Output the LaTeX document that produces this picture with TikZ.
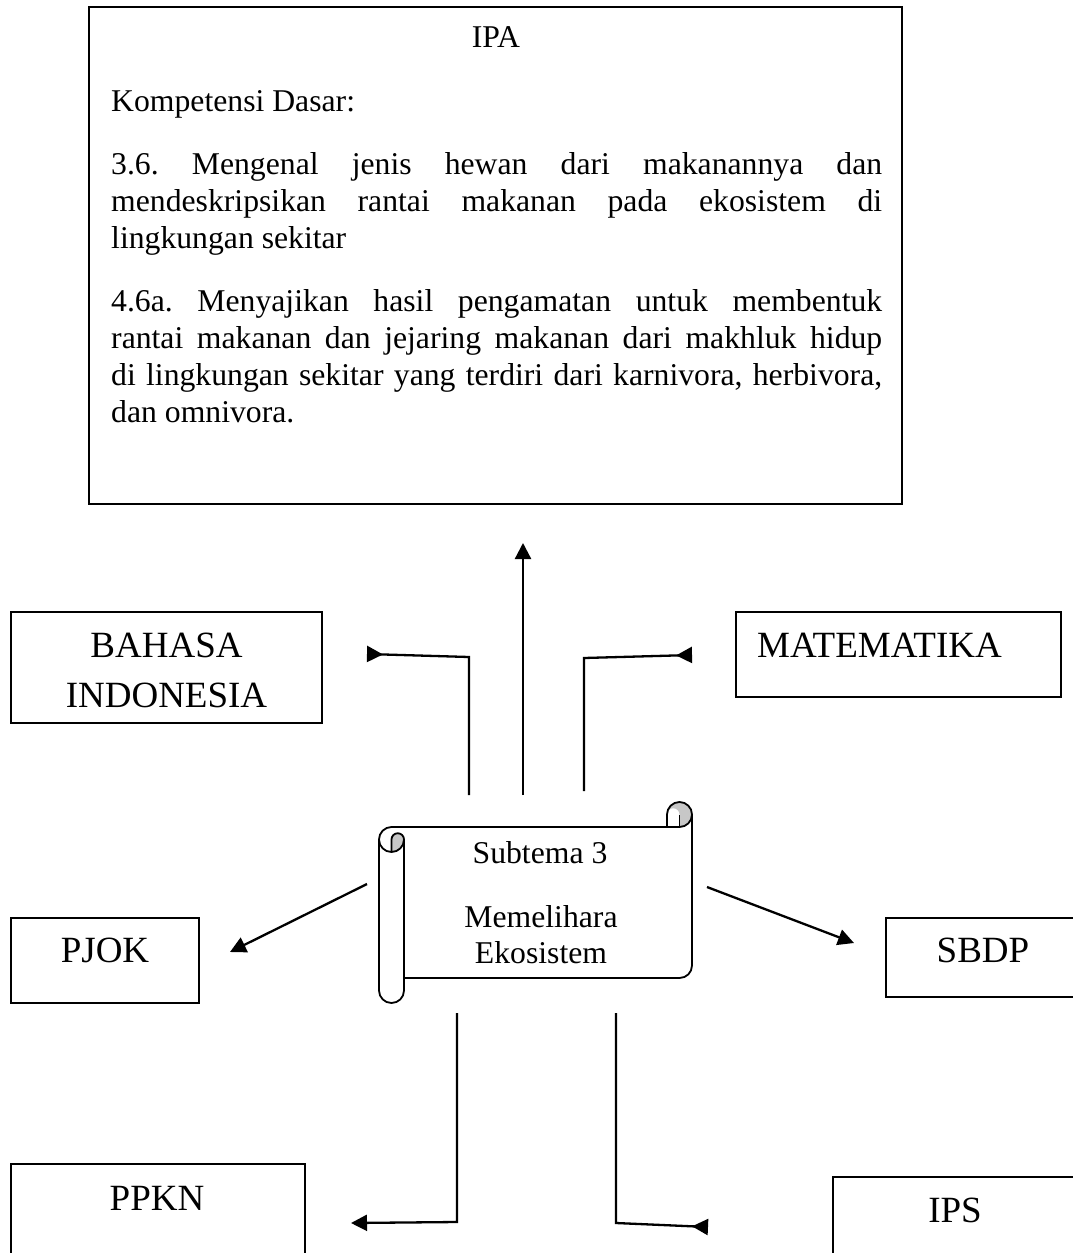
\documentclass[tikz,border=0pt]{standalone}
\usepackage{fontspec}
\setmainfont{Liberation Serif}
\usetikzlibrary{arrows.meta}
\frenchspacing
\tikzset{
  box/.style={draw, line width=1.6pt, inner sep=0pt},
  conn/.style={line width=2.3pt, line join=miter, -{Triangle[length=16pt,width=16pt]}},
  connrev/.style={line width=2.3pt, line join=miter, -{Triangle[length=16pt,width=16pt,reversed]}},
  bodytxt/.style={inner sep=0pt, font=\fontsize{31.7}{36.6}\selectfont},
  labtxt/.style={inner sep=0pt, font=\fontsize{37}{50}\selectfont},
  scrollline/.style={line width=1.8pt, line join=round},
}
\begin{document}
\begin{tikzpicture}[x=1pt,y=-1pt]
\useasboundingbox (0,0) rectangle (1073,1253);
\clip (0,0) rectangle (1073,1253);

% ---------- IPA box ----------
\node[box, minimum width=813pt, minimum height=497pt] (ipa) at (495.5,255.5) {};
\node[bodytxt, anchor=base] (ipat) at (496,47) {IPA};
\node[bodytxt, anchor=base west] (kd) at (111,111) {Kompetensi Dasar:};
\node[bodytxt, anchor=base west] (l1) at (111,174) {\makebox[771pt][s]{3.6. Mengenal jenis hewan dari makanannya dan}};
\node[bodytxt, anchor=base west] (l2) at (111,211) {\makebox[771pt][s]{mendeskripsikan rantai makanan pada ekosistem di}};
\node[bodytxt, anchor=base west] (l3) at (111,248) {lingkungan sekitar};
\node[bodytxt, anchor=base west] (l4) at (111,311) {\makebox[771pt][s]{4.6a. Menyajikan hasil pengamatan untuk membentuk}};
\node[bodytxt, anchor=base west] (l5) at (111,348) {\makebox[771pt][s]{rantai makanan dan jejaring makanan dari makhluk hidup}};
\node[bodytxt, anchor=base west] (l6) at (111,385) {\makebox[771pt][s]{di lingkungan sekitar yang terdiri dari karnivora, herbivora,}};
\node[bodytxt, anchor=base west] (l7) at (111,422) {dan omnivora.};

% ---------- subject boxes ----------
\node[box, minimum width=311pt, minimum height=111pt] (bi) at (166.5,667.5) {};
\node[labtxt, anchor=base] (bit1) at (166.5,657) {BAHASA};
\node[labtxt, anchor=base] (bit2) at (166.5,707) {INDONESIA};

\node[box, minimum width=325pt, minimum height=85pt] (mat) at (898.5,654.5) {};
\node[labtxt, anchor=base west] (matt) at (757,657) {MATEMATIKA};

\node[box, minimum width=188pt, minimum height=85pt] (pjok) at (105,960.5) {};
\node[labtxt, anchor=base] (pjokt) at (105,962) {PJOK};

\node[box, minimum width=224pt, minimum height=79pt] (sbdp) at (998,957.5) {};
\node[labtxt, anchor=base] (sbdpt) at (983,962) {SBDP};

\node[box, minimum width=294pt, minimum height=140pt] (ppkn) at (158,1234) {};
\node[labtxt, anchor=base] (ppknt) at (157,1210) {PPKN};

\node[box, minimum width=267pt, minimum height=130pt] (ips) at (966.5,1242) {};
\node[labtxt, anchor=base] (ipst) at (955,1222) {IPS};

% ---------- scroll (Subtema) ----------
\coordinate (scroll) at (535.5,902.5);
\fill[white] (379,839.5) arc[start angle=180, delta angle=90, radius=12.5]
  -- (667,827) -- (667,814.5) arc[start angle=180, delta angle=180, radius=12.5]
  -- (692,965.5) arc[start angle=0, delta angle=90, radius=12.5]
  -- (404,978) -- (404,990.5) arc[start angle=0, delta angle=180, radius=12.5] -- cycle;
% darker curls
\fill[black!22] (679.5,827) arc[start angle=90, delta angle=-270, radius=12.5]
  arc[start angle=180, delta angle=180, radius=6.25] -- cycle;
\fill[black!22] (391.5,852) arc[start angle=90, delta angle=-90, radius=12.5]
  arc[start angle=0, delta angle=-180, radius=6.25] -- cycle;
% outline
\draw[scrollline] (379,839.5) arc[start angle=180, delta angle=90, radius=12.5]
  -- (667,827) -- (667,814.5) arc[start angle=180, delta angle=180, radius=12.5]
  -- (692,965.5) arc[start angle=0, delta angle=90, radius=12.5]
  -- (404,978) -- (404,990.5) arc[start angle=0, delta angle=180, radius=12.5] -- cycle;
\draw[scrollline] (667,827) -- (679.5,827) arc[start angle=90, delta angle=-90, radius=12.5];
\draw[scrollline] (679.5,827) -- (679.5,814.5);
\draw[scrollline] (391.5,852) -- (391.5,839.5) arc[start angle=180, delta angle=180, radius=6.25]
  arc[start angle=0, delta angle=180, radius=12.5];
\draw[scrollline] (404,839.5) -- (404,978);

\node[bodytxt, anchor=base] (st1) at (540,863) {Subtema 3};
\node[bodytxt, anchor=base] (st2) at (541,927) {Memelihara};
\node[bodytxt, anchor=base] (st3) at (541,963) {Ekosistem};

% ---------- connectors ----------
\coordinate (c1s) at (469,795); \coordinate (c1m) at (469,657); \coordinate (c1e) at (367,654);
\coordinate (c2s) at (523,795); \coordinate (c2e) at (523,543);
\coordinate (c3s) at (584,791); \coordinate (c3m) at (584,658); \coordinate (c3e) at (692,655);
\coordinate (c4s) at (367,884); \coordinate (c4e) at (230,952);
\coordinate (c5s) at (707,887); \coordinate (c5e) at (854,943);
\coordinate (c6s) at (457,1013); \coordinate (c6m) at (457,1222); \coordinate (c6e) at (351,1223);
\coordinate (c7s) at (616,1013); \coordinate (c7m) at (616,1223); \coordinate (c7e) at (708,1227);

\draw[connrev] (c1s) -- (c1m) -- (c1e);
\draw[conn] (c2s) -- (c2e);
\draw[connrev] (c3s) -- (c3m) -- (c3e);
\draw[conn] (c4s) -- (c4e);
\draw[conn] (c5s) -- (c5e);
\draw[conn] (c6s) -- (c6m) -- (c6e);
\draw[connrev] (c7s) -- (c7m) -- (c7e);
\end{tikzpicture}
\end{document}
